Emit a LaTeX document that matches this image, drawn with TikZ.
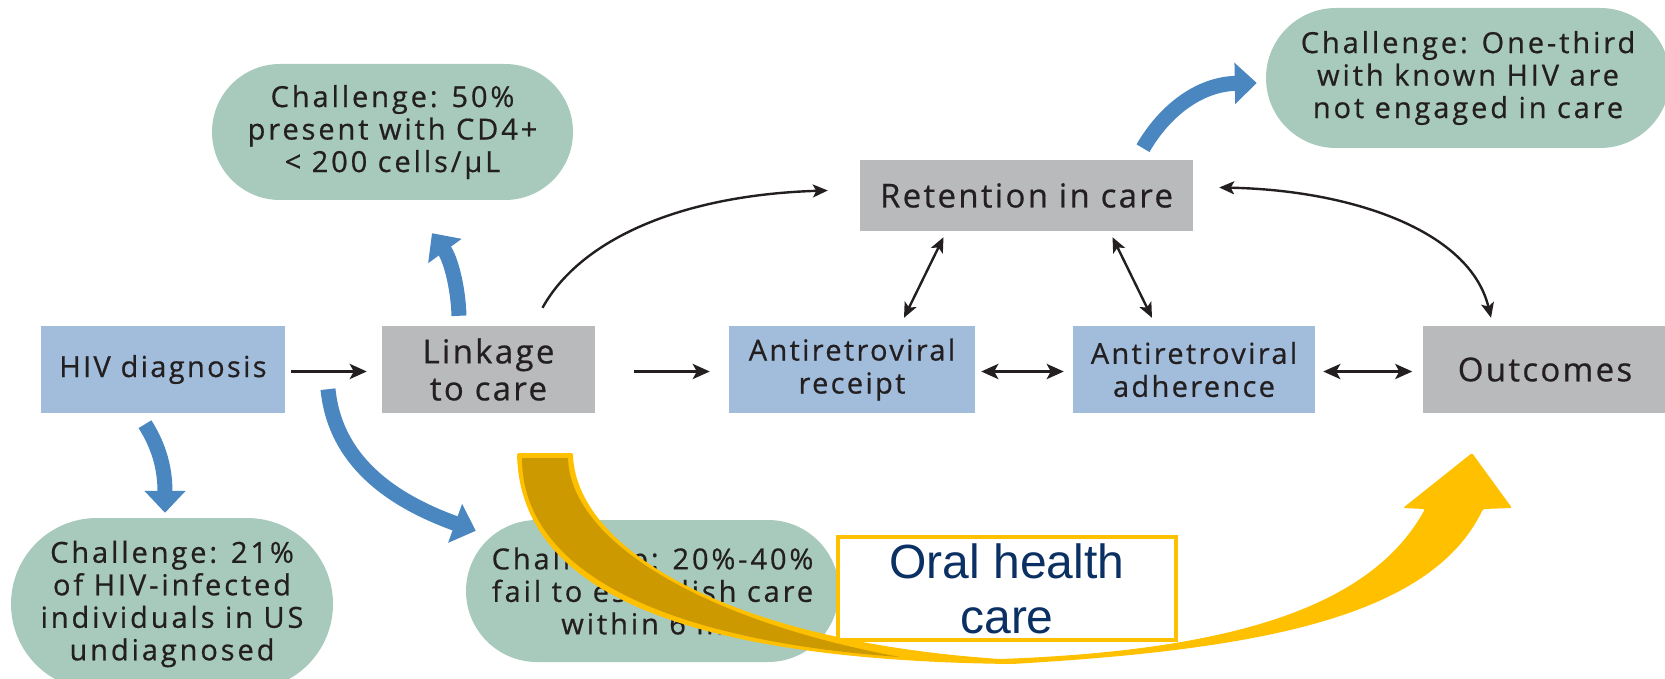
\documentclass[tikz,border=0pt]{standalone}
\usepackage{fontspec}
\setmainfont{Open Sans}
\newfontfamily\bluefont[LetterSpace=8,FakeBold=0.6]{Open Sans}
\newfontfamily\greyfont[LetterSpace=7,FakeBold=0.6]{Open Sans}
\newfontfamily\chalfont[LetterSpace=10,FakeBold=0.6]{Open Sans}
\newfontfamily\arialfont{Liberation Sans}
\usetikzlibrary{arrows.meta}
\definecolor{bluebox}{RGB}{161,189,219}
\definecolor{greybox}{RGB}{185,186,188}
\definecolor{greenc}{RGB}{168,202,189}
\definecolor{bluearr}{RGB}{74,134,192}
\definecolor{gold}{RGB}{255,192,0}
\definecolor{darkgold}{RGB}{204,153,0}
\definecolor{navy}{RGB}{10,48,100}
\definecolor{txt}{RGB}{35,31,32}
\begin{document}
\begin{tikzpicture}[x=1pt,y=-1pt,
  bx/.style={rectangle, inner sep=0pt, minimum height=87pt, align=center, text=txt},
  bluebx/.style={bx, fill=bluebox, font=\bluefont\fontsize{29}{33}\selectfont},
  greybx/.style={bx, fill=greybox, font=\greyfont\fontsize{33}{37}\selectfont},
  chal/.style={rectangle, fill=greenc, inner sep=0pt, align=center, text=txt,
    font=\chalfont\fontsize{29}{32.5}\selectfont},
  blk/.style={draw=txt, line width=3.5pt, -{Stealth[length=17pt,width=15pt,inset=4pt]}},
  blkboth/.style={draw=txt, line width=3.5pt, {Stealth[length=17pt,width=15pt,inset=4pt]}-{Stealth[length=17pt,width=15pt,inset=4pt]}},
  thinarr/.style={draw=txt, line width=2.4pt, -{Stealth[length=15pt,width=13pt,inset=3.5pt]}},
  thinboth/.style={draw=txt, line width=2.4pt, {Stealth[length=15pt,width=13pt,inset=3.5pt]}-{Stealth[length=15pt,width=13pt,inset=3.5pt]}},
  bluearrow/.style={draw=bluearr, line width=15pt, -{Triangle[length=22pt,width=40pt]}},
  oralbox/.style={rectangle, draw=gold, line width=4.5pt, fill=white, inner sep=0pt, align=center,
    text=navy, font=\arialfont\fontsize{48}{55}\selectfont}
]
\useasboundingbox (0,0) rectangle (1665,679);
\clip (0,0) rectangle (1665,679);

% main boxes
\node[bluebx, minimum width=244pt] (hiv) at (163,369.5) {HIV diagnosis};
\node[greybx, minimum width=213pt] (link) at (488.5,369.5) {Linkage\\to care};
\node[bluebx, minimum width=246pt] (rec) at (852,369.5) {Antiretroviral\\receipt};
\node[bluebx, minimum width=242pt] (adh) at (1194,369.5) {Antiretroviral\\adherence};
\node[greybx, minimum width=245pt] (out) at (1545,369.5) {Outcomes};
\node[greybx, minimum width=333pt, minimum height=71pt] (ret) at (1026.5,195.5) {Retention in care};

% challenge bubbles
\node[chal, minimum width=361pt, minimum height=136pt, rounded corners=68pt] (c50) at (392.5,132) {Challenge: 50\%\\present with CD4+\\< 200 cells/µL};
\node[chal, minimum width=404pt, minimum height=140pt, rounded corners=70pt] (c13) at (1468,78) {Challenge: One-third\\with known HIV are\\not engaged in care};
\node[chal, minimum width=322pt, minimum height=172pt, rounded corners=86pt] (c21) at (172,604) {Challenge: 21\%\\of HIV-infected\\individuals in US\\undiagnosed};
\node[chal, minimum width=373pt, minimum height=142pt, rounded corners=71pt] (c24) at (652.5,591) {Challenge: 20\%-40\%\\fail to establish care\\within 6 mo};

% black connectors
\draw[blk] ([xshift=6pt,yshift=-2pt]hiv.east) -- ([xshift=-15pt,yshift=-2pt]link.west);
\draw[blk] ([xshift=39pt,yshift=-2pt]link.east) -- ([xshift=-19pt,yshift=-2pt]rec.west);
\draw[blkboth] ([xshift=6pt,yshift=-2pt]rec.east) -- ([xshift=-9pt,yshift=-2pt]adh.west);
\draw[blkboth] ([xshift=8pt,yshift=-2pt]adh.east) -- ([xshift=-10pt,yshift=-2pt]out.west);
\draw[thinarr] ([shift={(54,-18)}]link.north) .. controls (580,240) and (680,195) .. ([shift={(-32,-5)}]ret.west);
\draw[thinboth] ([shift={(-83,6)}]ret.south) -- ([shift={(52,-8)}]rec.north);
\draw[thinboth] ([shift={(86,6)}]ret.south) -- ([shift={(-42,-8)}]adh.north);
\draw[thinboth] ([shift={(26,-8)}]ret.east) .. controls (1350,190) and (1470,230) .. ([shift={(-54,-8)}]out.north);

% blue challenge arrows
\draw[bluearrow] ([shift={(-29.5,-10)}]link.north) .. controls (458,285) and (450,258) .. ([shift={(39.5,33)}]c50.south);
\draw[bluearrow] ([shift={(-18,11)}]hiv.south) .. controls (160,448) and (165,470) .. ([shift={(-7,-5)}]c21.north);
\draw[bluearrow] ([shift={(165,-24)}]hiv.south) .. controls (335,460) and (390,500) .. ([shift={(10,11)}]c24.north west);
\draw[bluearrow] ([shift={(116.5,-83)}]ret.south) .. controls (1165,110) and (1200,84) .. ([shift={(-9,5)}]c13.west);

% yellow ribbon arrow
\fill[gold, rounded corners=1.5pt] (517,453) .. controls (520,590) and (680,660) .. (1012,664)
  .. controls (1250,650) and (1430,620) .. (1483,509)
  -- (1512,508) -- (1472,453) -- (1403,508) -- (1425,509)
  .. controls (1375,600) and (1250,650) .. (1000,659)
  .. controls (720,640) and (575,545) .. (573,453) -- cycle;
\fill[darkgold]
  (522,458) .. controls (522,570) and (660,640) .. (900,657)
  .. controls (700,620) and (570,540) .. (568,458) -- cycle;

% oral health care box
\node[oralbox, minimum width=338pt, minimum height=103pt] (oral) at (1007,588.5) {Oral health\\care};
\end{tikzpicture}
\end{document}
